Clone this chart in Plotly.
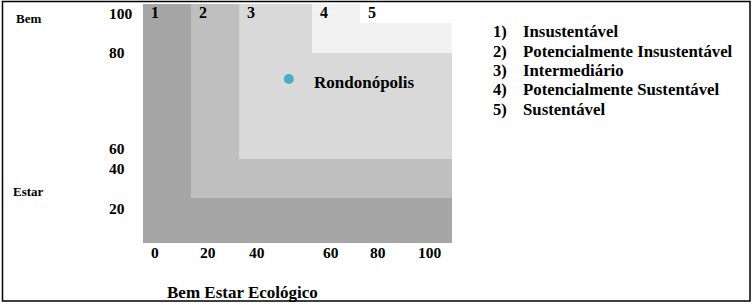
import plotly.graph_objects as go

# ---- data ----
zone_labels = ["1", "2", "3", "4", "5"]
zone_colors = ["#a6a6a6", "#bfbfbf", "#d9d9d9", "#f2f2f2", "#ffffff"]
zone_x0 = [0, 15.5, 31.1, 54.7, 70.2]
zone_y0 = [0, 18.8, 35.1, 79.5, 92.1]
zone_x1 = [100, 100, 100, 100, 100]
zone_y1 = [100, 100, 100, 100, 100]

x_tick_vals = [3.9, 21.0, 36.9, 60.8, 76.1, 92.9]
x_tick_text = ["0", "20", "40", "60", "80", "100"]
y_tick_vals = [96.2, 79.9, 39.7, 31.0, 14.6]
y_tick_text = ["100", "80", "60", "40", "20"]

city_names = ["Rondonópolis"]
city_x = [47.2]
city_y = [68.6]

legend_nums = ["1)", "2)", "3)", "4)", "5)"]
legend_texts = ["Insustentável", "Potencialmente Insustentável", "Intermediário",
                "Potencialmente Sustentável", "Sustentável"]

x_title = "Bem Estar Ecológico"
y_title_top = "Bem"
y_title_bottom = "Estar"

# ---- layout geometry ----
W, H = 756, 306
L, R, T, B = 143, 452, 4, 243
FONT = "Liberation Serif, Times New Roman, serif"


def px(X):
    return (X - L) / (R - L)


def py(Y):
    return (B - Y) / (B - T)


fig = go.Figure()

shapes = []
for x0, y0, x1, y1, c in zip(zone_x0, zone_y0, zone_x1, zone_y1, zone_colors):
    shapes.append(dict(type="rect", xref="x", yref="y", x0=x0, y0=y0, x1=x1, y1=y1,
                       fillcolor=c, line=dict(width=0), layer="below"))
# outer frame
shapes.append(dict(type="rect", xref="paper", yref="paper",
                   x0=px(2.5), x1=px(750), y0=py(1.5), y1=py(301),
                   line=dict(color="black", width=1.5), fillcolor="rgba(0,0,0,0)"))

fig.add_trace(go.Scatter(x=city_x, y=city_y, mode="markers",
                         marker=dict(size=10, color="#4bacc6"),
                         hoverinfo="skip", showlegend=False))

ann = []
# zone numbers
for lab, x0 in zip(zone_labels, zone_x0):
    ann.append(dict(x=x0, y=100, xref="x", yref="y", text="<b>%s</b>" % lab,
                    showarrow=False, xanchor="center", yanchor="middle",
                    xshift=12, yshift=-8.5, font=dict(family=FONT, size=16, color="black")))
# city label
for n, x, y in zip(city_names, city_x, city_y):
    ann.append(dict(x=x, y=y, xref="x", yref="y", text="<b>%s</b>" % n, showarrow=False,
                    xanchor="left", yanchor="middle", xshift=23, yshift=-3,
                    font=dict(family=FONT, size=17, color="black")))
# x tick labels
for v, t in zip(x_tick_vals, x_tick_text):
    ann.append(dict(x=v, y=0, xref="x", yref="paper", text="<b>%s</b>" % t, showarrow=False,
                    xanchor="center", yanchor="middle", yshift=-9,
                    font=dict(family=FONT, size=15.5, color="black")))
# y tick labels (left aligned)
for v, t in zip(y_tick_vals, y_tick_text):
    ann.append(dict(x=px(107), y=v, xref="paper", yref="y", text="<b>%s</b>" % t, showarrow=False,
                    xanchor="left", yanchor="middle",
                    font=dict(family=FONT, size=15.5, color="black")))
# axis titles
ann.append(dict(x=px(242), y=py(292), xref="paper", yref="paper", text="<b>%s</b>" % x_title,
                showarrow=False, xanchor="center", yanchor="middle",
                font=dict(family=FONT, size=17, color="black")))
ann.append(dict(x=px(14), y=py(18), xref="paper", yref="paper", text="<b>%s</b>" % y_title_top,
                showarrow=False, xanchor="left", yanchor="middle",
                font=dict(family=FONT, size=13, color="black")))
ann.append(dict(x=px(11), y=py(191), xref="paper", yref="paper", text="<b>%s</b>" % y_title_bottom,
                showarrow=False, xanchor="left", yanchor="middle",
                font=dict(family=FONT, size=13, color="black")))
# legend list
for i, (n, t) in enumerate(zip(legend_nums, legend_texts)):
    yy = 32 + i * 19.25
    ann.append(dict(x=px(491), y=py(yy), xref="paper", yref="paper", text="<b>%s</b>" % n,
                    showarrow=False, xanchor="left", yanchor="middle",
                    font=dict(family=FONT, size=16.5, color="black")))
    ann.append(dict(x=px(521), y=py(yy), xref="paper", yref="paper", text="<b>%s</b>" % t,
                    showarrow=False, xanchor="left", yanchor="middle",
                    font=dict(family=FONT, size=16.8, color="black")))

fig.update_layout(
    width=W, height=H,
    margin=dict(l=L, r=W - R, t=T, b=H - B, pad=0),
    paper_bgcolor="white", plot_bgcolor="white",
    shapes=shapes, annotations=ann,
    xaxis=dict(range=[0, 100], visible=False, fixedrange=True),
    yaxis=dict(range=[0, 100], visible=False, fixedrange=True),
    showlegend=False,
)

fig.write_html("out.html")
